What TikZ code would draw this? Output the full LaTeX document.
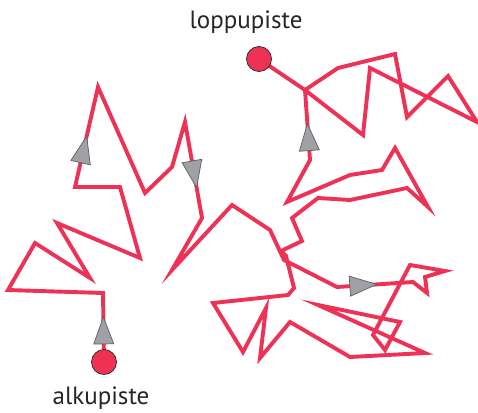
\documentclass[tikz,border=0pt]{standalone}
\usepackage{fontspec}
\setmainfont{PT Sans}
\usetikzlibrary{calc}
\definecolor{walkred}{RGB}{238,50,85}
\definecolor{arrgray}{RGB}{160,161,164}
\definecolor{arrline}{RGB}{95,95,95}
\tikzset{
  walk/.style={draw=walkred, line width=3.9pt, miter limit=10},
  arrtri/.style={fill=arrgray, draw=arrline, line width=0.7pt, line join=miter},
  dot/.style={circle, minimum size=25pt, inner sep=0pt, fill=walkred, draw=black!85, line width=0.7pt},
  lbl/.style={font=\fontsize{25}{29}\selectfont, text=black!85, inner sep=0pt}
}
% triangle marker on segment #1--#2 at relative position #3, pointing from #1 to #2
\newcommand\walkmarker[3]{%
  \coordinate (mc) at ($(#1)!#3!(#2)$);
  \coordinate (mt) at ($(mc)!14pt!(#2)$);
  \coordinate (mb) at ($(mc)!-13pt!(#2)$);
  \draw[arrtri] (mt) -- ($(mb)!10pt!90:(mt)$) -- ($(mb)!10pt!-90:(mt)$) -- cycle;
}
\begin{document}
\begin{tikzpicture}[x=1pt,y=-1pt]
\useasboundingbox (0,0) rectangle (478,412);
\foreach \n/\x/\y in {
 0/104/362, 1/103/293, 2/8/290, 3/35/243, 4/90/278, 5/57/223, 6/140/258, 7/120/187,
 8/75/187, 9/98/87, 10/145/193, 11/172/167, 12/185/122, 13/202/218, 14/172/270,
 15/232/205, 16/270/230, 17/284/260, 18/337/287, 19/413/282, 20/427/293, 21/425/277,
 22/445/271, 23/410/265, 24/373/335, 25/385/350, 26/400/322, 27/318/305, 28/425/353,
 29/350/357, 30/290/322, 31/260/358, 32/266/308, 33/243/352, 34/213/303, 35/288/295,
 36/294/288, 37/286/256, 38/281/251, 39/302/241, 40/292/218, 41/318/198, 42/350/200,
 43/407/188, 44/428/207, 45/395/148, 46/382/170, 47/350/175, 48/287/202, 49/310/160,
 50/305/90, 51/338/68, 52/395/54, 53/407/117, 54/448/76, 55/477/122, 56/370/68,
 57/363/135, 58/305/90, 59/259/59}
 {\coordinate (p\n) at (\x,\y);}
\draw[walk] (p0) -- (p1) -- (p2) -- (p3) -- (p4) -- (p5) -- (p6) -- (p7) -- (p8) -- (p9)
 -- (p10) -- (p11) -- (p12) -- (p13) -- (p14) -- (p15) -- (p16) -- (p17) -- (p18) -- (p19)
 -- (p20) -- (p21) -- (p22) -- (p23) -- (p24) -- (p25) -- (p26) -- (p27) -- (p28) -- (p29)
 -- (p30) -- (p31) -- (p32) -- (p33) -- (p34) -- (p35) -- (p36) -- (p37) -- (p38) -- (p39)
 -- (p40) -- (p41) -- (p42) -- (p43) -- (p44) -- (p45) -- (p46) -- (p47) -- (p48) -- (p49)
 -- (p50) -- (p51) -- (p52) -- (p53) -- (p54) -- (p55) -- (p56) -- (p57) -- (p58) -- (p59);
\walkmarker{p0}{p1}{0.45}
\walkmarker{p8}{p9}{0.37}
\walkmarker{p12}{p13}{0.54}
\walkmarker{p18}{p19}{0.34}
\walkmarker{p49}{p50}{0.32}
\node[dot] (start) at (p0) {};
\node[dot] (end) at (p59) {};
\node[lbl] (lstart) at (101,398) {alkupiste};
\node[lbl] (lend) at (246,22) {loppupiste};
\end{tikzpicture}
\end{document}
